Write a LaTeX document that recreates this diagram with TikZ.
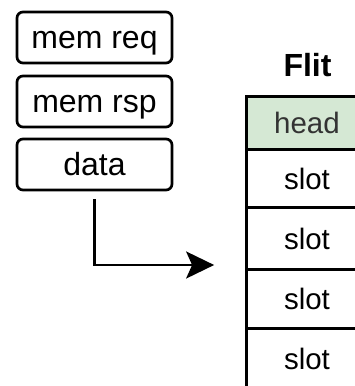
\documentclass[tikz,border=0pt]{standalone}
\usepackage{fontspec}
\setmainfont{Liberation Sans}
\usetikzlibrary{arrows.meta}
\definecolor{headfill}{HTML}{D5E8D4}
\definecolor{headtext}{HTML}{333333}
\begin{document}
\begin{tikzpicture}[x=1pt,y=-1pt,
  tag/.style={draw, line width=2.7pt, rounded corners=6pt,
    minimum width=155pt, minimum height=51pt, inner sep=0pt,
    font=\fontsize{32}{38}\selectfont, text height=22.9pt, text depth=0pt},
  cell/.style={draw, line width=2.7pt, minimum width=121pt, inner sep=0pt,
    font=\fontsize{29.5}{35}\selectfont, text height=21.1pt, text depth=0pt},
  title/.style={inner sep=0pt, font=\bfseries\fontsize{32}{38}\selectfont,
    text height=22.9pt, text depth=0pt},
  link/.style={line width=2.7pt, -{Stealth[length=28pt,width=27pt,inset=6pt]}}
  ]
\useasboundingbox (0,0) rectangle (355,386);
\clip (0,0) rectangle (355,386);

% message kinds
\node[tag] (req)  at (94.5,37.5)  {mem req};
\node[tag] (rsp)  at (94.5,101.5) {mem rsp};
\node[tag] (data) at (94.5,164.5) {data};

% flit layout
\node[title] (flit) at (307.5,65.5) {Flit};
\node[cell, fill=headfill, text=headtext, minimum height=52.6pt] (head) at (307,123) {head};
\node[cell, minimum height=58.4pt] (s1) at (307,178.5) {slot};
\node[cell, minimum height=61.6pt] (s2) at (307,238.5) {slot};
\node[cell, minimum height=59.4pt] (s3) at (307,299) {slot};
\node[cell, minimum height=60pt]   (s4) at (307,359) {slot};

% data goes into the flit slots
\coordinate (start) at ([yshift=-8pt]data.south);
\coordinate (tip) at ([xshift=-31pt]s2.west |- 0,265);
\draw[link] (start) |- (tip);
\end{tikzpicture}
\end{document}
